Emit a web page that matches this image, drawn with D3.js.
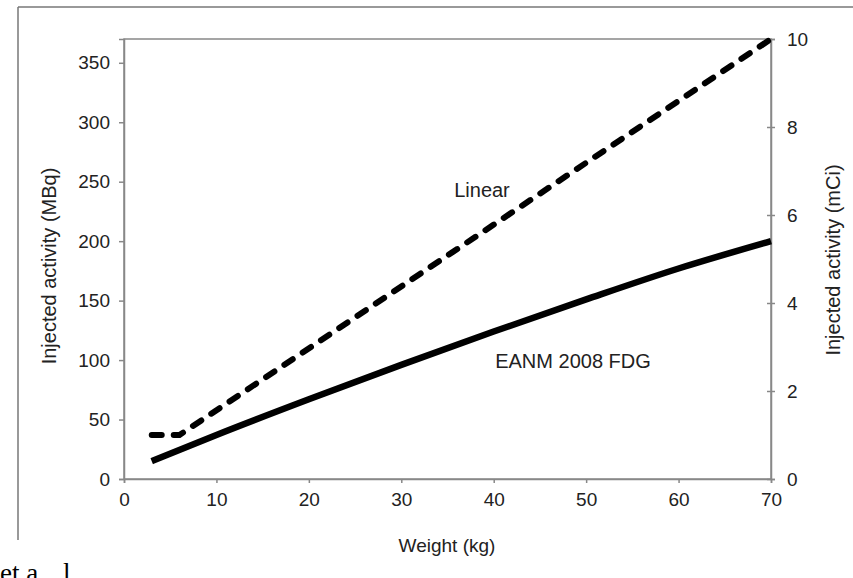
<!DOCTYPE html>
<html>
<head>
<meta charset="utf-8">
<script src="https://cdn.jsdelivr.net/npm/d3@7"></script>
<style>
  body { margin: 0; background: #fff; }
  svg { display: block; }
  text { font-family: "Liberation Sans", Arial, sans-serif; fill: #222; }
</style>
</head>
<body>
<svg id="chart"></svg>
<script>
// weight (kg) and injected activity (MBq)
const eanmWeights = [3, 10, 20, 30, 40, 50, 60, 70];
const eanmMBq = [15, 37, 67, 96, 124, 151, 177, 200];

const linearWeights = [3, 6, 70];
const linearMBq = [37, 37, 370];

const xTicks = [0, 10, 20, 30, 40, 50, 60, 70];
const leftTicks = [0, 50, 100, 150, 200, 250, 300, 350];
const rightTicks = [0, 2, 4, 6, 8, 10];

let width = 853;
let height = 578;
let plotLeft = 124;
let plotRight = 771;
let plotTop = 39;
let plotBottom = 479;

let svg = d3.select('#chart').attr('width', width).attr('height', height);

let xScale = d3.scaleLinear().domain([0, 70]).range([plotLeft, plotRight]);
let yScale = d3.scaleLinear().domain([0, 370]).range([plotBottom, plotTop]);
let mCiScale = d3.scaleLinear().domain([0, 10]).range([plotBottom, plotTop]);

// outer frame of the cropped figure
svg.append('line')
  .attr('x1', 18).attr('y1', 7).attr('x2', width).attr('y2', 7)
  .attr('stroke', '#777').attr('stroke-width', 1.5);
svg.append('line')
  .attr('x1', 18).attr('y1', 7).attr('x2', 18).attr('y2', 540)
  .attr('stroke', '#777').attr('stroke-width', 1.5);

// plot box
svg.append('rect')
  .attr('x', plotLeft).attr('y', plotTop)
  .attr('width', plotRight - plotLeft).attr('height', plotBottom - plotTop)
  .attr('fill', 'none').attr('stroke', '#888').attr('stroke-width', 1.5);

let styleAxis = (g) => {
  g.select('.domain').attr('stroke', '#888').attr('stroke-width', 1.5);
  g.selectAll('.tick line').attr('stroke', '#888').attr('stroke-width', 1.5);
  g.selectAll('.tick text').attr('fill', '#222')
    .style('font-family', '"Liberation Sans", Arial, sans-serif')
    .style('font-size', '19px');
};

svg.append('g')
  .attr('transform', `translate(0, ${plotBottom})`)
  .call(d3.axisBottom(xScale).tickValues(xTicks).tickSize(4).tickPadding(10))
  .call(styleAxis);

svg.append('g')
  .attr('transform', `translate(${plotLeft}, 0)`)
  .call(d3.axisLeft(yScale).tickValues(leftTicks).tickSize(5).tickPadding(9))
  .call(styleAxis);

let rightAxis = svg.append('g')
  .attr('transform', `translate(${plotRight}, 0)`)
  .call(d3.axisRight(mCiScale).tickValues(rightTicks).tickSize(4).tickPadding(12))
  .call(styleAxis);
// right ticks cross the axis line
rightAxis.selectAll('.tick line').attr('x1', -4);

// series
let eanmData = eanmWeights.map((w, i) => [w, eanmMBq[i]]);
let linearData = linearWeights.map((w, i) => [w, linearMBq[i]]);

svg.append('path')
  .datum(eanmData)
  .attr('d', d3.line().curve(d3.curveMonotoneX).x((d) => xScale(d[0])).y((d) => yScale(d[1])))
  .attr('fill', 'none')
  .attr('stroke', '#000')
  .attr('stroke-width', 6.5);

svg.append('path')
  .datum(linearData)
  .attr('d', d3.line().x((d) => xScale(d[0])).y((d) => yScale(d[1])))
  .attr('fill', 'none')
  .attr('stroke', '#000')
  .attr('stroke-width', 6)
  .attr('stroke-linecap', 'round')
  .attr('stroke-dasharray', '10,12');

// annotations
svg.append('text')
  .attr('x', 482).attr('y', 197)
  .attr('text-anchor', 'middle')
  .style('font-size', '20px')
  .text('Linear');

svg.append('text')
  .attr('x', 573).attr('y', 368)
  .attr('text-anchor', 'middle')
  .style('font-size', '20px')
  .text('EANM 2008 FDG');

// axis titles
svg.append('text')
  .attr('x', 447).attr('y', 552)
  .attr('text-anchor', 'middle')
  .style('font-size', '19px')
  .text('Weight (kg)');

svg.append('text')
  .attr('transform', 'translate(56, 266) rotate(-90)')
  .attr('text-anchor', 'middle')
  .style('font-size', '20px')
  .text('Injected activity (MBq)');

svg.append('text')
  .attr('transform', 'translate(840, 260) rotate(-90)')
  .attr('text-anchor', 'middle')
  .style('font-size', '20px')
  .text('Injected activity (mCi)');

// cut-off caption text below the figure
let caption = svg.append('text')
  .attr('x', 0).attr('y', 582)
  .style('font-family', '"Liberation Serif", "Times New Roman", serif')
  .style('font-size', '27px')
  .style('fill', '#000');
caption.append('tspan').text('et a');
caption.append('tspan').attr('x', 63).attr('y', 582).text('l');
</script>
</body>
</html>
